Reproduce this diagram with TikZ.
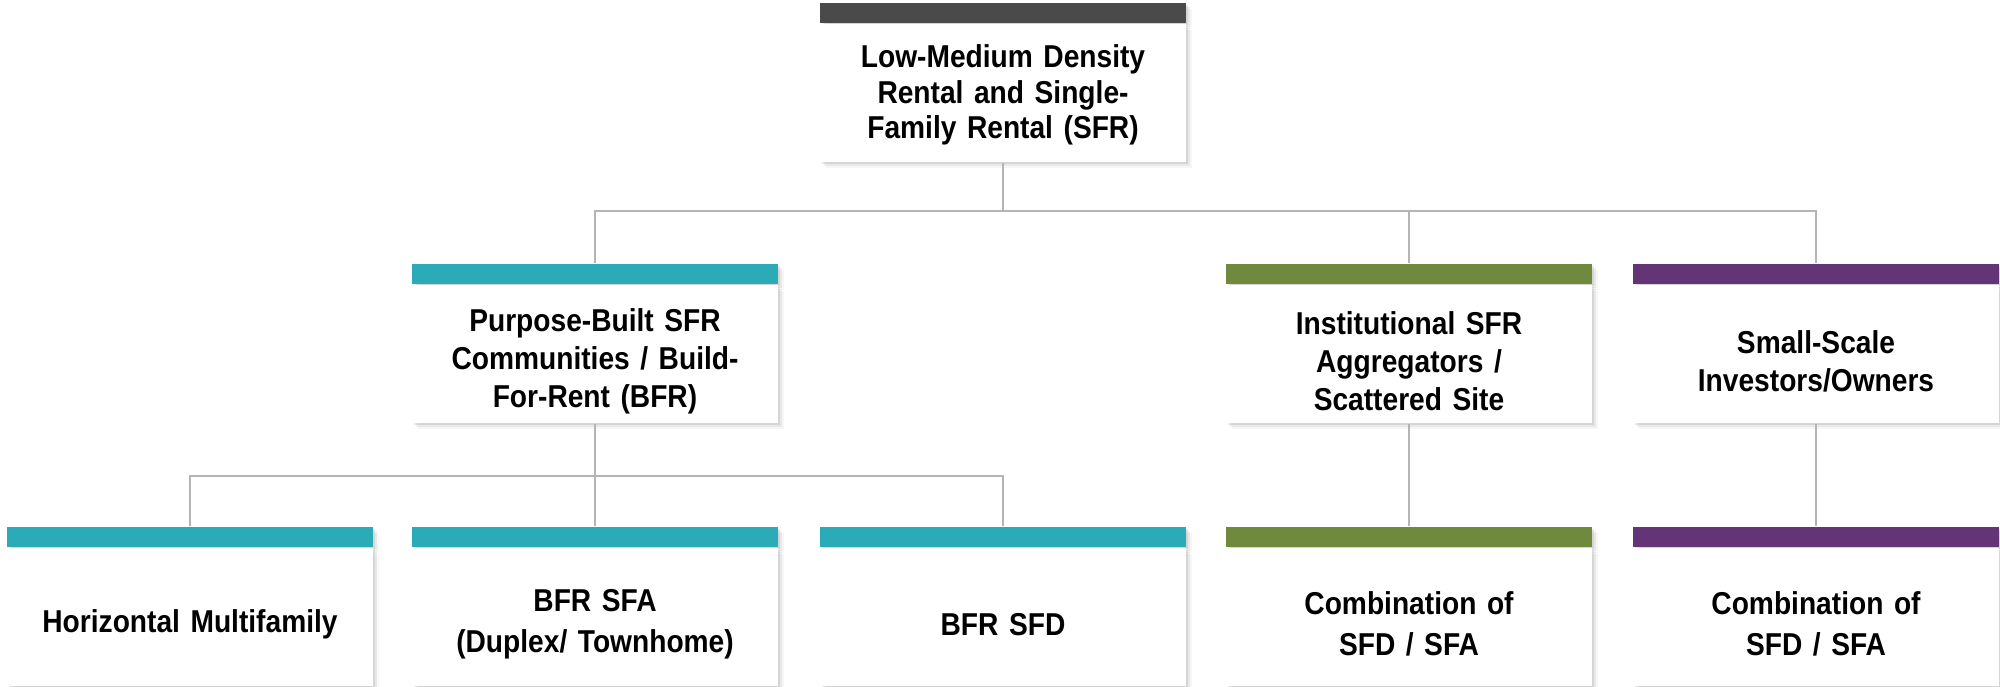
\documentclass[tikz,border=0pt]{standalone}
\usepackage{fontspec}
\setmainfont{Liberation Sans}
\newfontfamily\boxface{Liberation Sans}[FakeStretch=0.89, WordSpace=0.85]
\usetikzlibrary{positioning}
\usetikzlibrary{shadows}
\usetikzlibrary{calc}

\definecolor{headgray}{HTML}{4A4A4A}
\definecolor{bfrteal}{HTML}{2BAAB8}
\definecolor{instgreen}{HTML}{6F8A3D}
\definecolor{smallpurple}{HTML}{643576}
\definecolor{linkgray}{HTML}{B4B4B4}

\newcommand{\boxfont}[1]{\boxface\bfseries\fontsize{9}{#1}\selectfont}

\tikzset{
  softshadow/.style={
    drop shadow={shadow xshift=0.02cm, shadow yshift=-0.02cm, opacity=0.18},
    drop shadow={shadow xshift=0.04cm, shadow yshift=-0.04cm, opacity=0.12},
    drop shadow={shadow xshift=0.06cm, shadow yshift=-0.06cm, opacity=0.07}},
  boxtop/.style={fill=#1, minimum width=3.66cm, minimum height=0.2cm, inner sep=0pt, softshadow},
  boxbody/.style={fill=white, minimum width=3.66cm, minimum height=1.38cm, text width=3.6cm,
    align=center, inner sep=0pt, font=\boxfont{10.8pt},
    execute at begin node={\rule{0pt}{0.37cm}},
    below=0pt of #1, softshadow},
  roottext/.style={font=\boxfont{10.2pt}, execute at begin node={},
    execute at end node={\rule[-0.17cm]{0pt}{0.17cm}}},
  lowtext/.style={font=\boxfont{11.6pt}},
  link/.style={draw=linkgray, line width=0.7pt}
}

\begin{document}
\begin{tikzpicture}
      \useasboundingbox (0,0) rectangle (20,-6.87);

      % top
      \node[boxtop=headgray, anchor=north] (root top) at (10.03,-0.02) {};
      \node[boxbody=root top, roottext] (root) {Low-Medium Density\\Rental and Single-\\Family Rental (SFR)};

      % second row
      \node[boxtop=bfrteal, anchor=north] (bfr top) at (5.95,-2.63) {};
      \node[boxbody=bfr top] (bfr) {Purpose-Built SFR\\Communities / Build-\\For-Rent (BFR)};
      \node[boxtop=instgreen, anchor=north] (inst top) at (14.09,-2.63) {};
      \node[boxbody=inst top] (inst) {Institutional SFR\\Aggregators /\\Scattered Site};
      \node[boxtop=smallpurple, anchor=north] (small top) at (18.16,-2.63) {};
      \node[boxbody=small top] (small) {Small-Scale\\Investors/Owners};

      % third row
      \node[boxtop=bfrteal, anchor=north] (horiz top) at (1.90,-5.26) {};
      \node[boxbody=horiz top, lowtext] (horiz) {Horizontal Multifamily};
      \node[boxtop=bfrteal, anchor=north] (sfa top) at (5.95,-5.26) {};
      \node[boxbody=sfa top, lowtext] (sfa) {BFR SFA\\(Duplex/ Townhome)};
      \node[boxtop=bfrteal, anchor=north] (sfd top) at (10.03,-5.26) {};
      \node[boxbody=sfd top, lowtext] (sfd) {BFR SFD};
      \node[boxtop=instgreen, anchor=north] (instmix top) at (14.09,-5.26) {};
      \node[boxbody=instmix top, lowtext] (instmix) {Combination of\\SFD / SFA};
      \node[boxtop=smallpurple, anchor=north] (smallmix top) at (18.16,-5.26) {};
      \node[boxbody=smallmix top, lowtext] (smallmix) {Combination of\\SFD / SFA};

      % connectors
      \draw[link] (root.south) -- ++(0,-0.48) coordinate (rootbus);
      \draw[link] (rootbus) -| (bfr top.north);
      \draw[link] (rootbus) -| (inst top.north);
      \draw[link] (rootbus) -| (small top.north);

      \draw[link] (bfr.south) -- ++(0,-0.52) coordinate (bfrbus);
      \draw[link] (bfrbus) -| (horiz top.north);
      \draw[link] (bfrbus) -| (sfa top.north);
      \draw[link] (bfrbus) -| (sfd top.north);

      \draw[link] (inst.south) -- (instmix top.north);
      \draw[link] (small.south) -- (smallmix top.north);
\end{tikzpicture}
\end{document}
